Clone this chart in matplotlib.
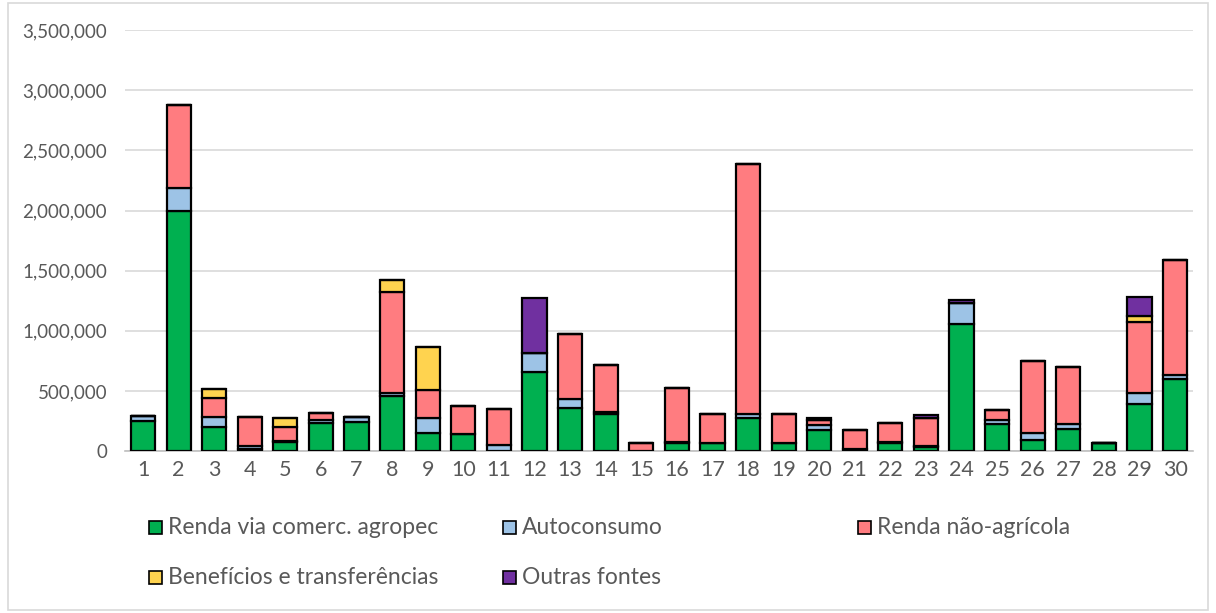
import numpy as np
import matplotlib.pyplot as plt
from matplotlib.patches import Rectangle

plt.rcParams['font.family'] = ['Lato', 'DejaVu Sans']

# propriedades 1..30
propriedades = list(range(1, 31))

series_names = ['Renda via comerc. agropec', 'Autoconsumo', 'Renda não-agrícola',
                'Benefícios e transferências', 'Outras fontes']

comerc = [250000, 2000000, 200000, 20000, 80000, 230000, 240000, 460000, 147000, 140000,
          5000, 655000, 355000, 310000, 2000, 65000, 65000, 272000, 65000, 175000,
          5000, 64000, 35000, 1060000, 225000, 90000, 183000, 70000, 395000, 596000]
autoconsumo = [40000, 190000, 85000, 25000, 5000, 25000, 45000, 25000, 130000, 0,
               50000, 160000, 77000, 15000, 0, 8000, 0, 40000, 0, 40000,
               15000, 15000, 10000, 175000, 30000, 65000, 40000, 0, 85000, 35000]
nao_agricola = [0, 690000, 155000, 240000, 120000, 60000, 0, 840000, 230000, 237000,
                295000, 0, 538000, 390000, 65000, 450000, 240000, 2075000, 248000, 42000,
                155000, 158000, 230000, 0, 85000, 595000, 480000, 0, 590000, 955000]
beneficios = [0, 0, 75000, 0, 72000, 0, 0, 95000, 360000, 0,
              0, 0, 0, 0, 0, 0, 0, 0, 0, 0,
              0, 0, 0, 0, 0, 0, 0, 0, 55000, 0]
outras = [0, 0, 0, 0, 0, 0, 0, 0, 0, 0,
          0, 455000, 0, 0, 0, 0, 0, 0, 0, 20000,
          0, 0, 25000, 25000, 0, 0, 0, 0, 160000, 0]

colors = ['#00B050', '#9DC3E6', '#FF7C80', '#FFD34F', '#7030A0']

fig = plt.figure(figsize=(12.16, 6.13), dpi=100)
ax = fig.add_axes([0.103, 0.264, 0.878, 0.687])

x = np.array(propriedades)
bottom = np.zeros(len(x))
for vals, col, name in zip([comerc, autoconsumo, nao_agricola, beneficios, outras],
                           colors, series_names):
    ax.bar(x, vals, bottom=bottom, width=0.68, color=col, edgecolor='black',
           linewidth=1.6, label=name, zorder=3)
    bottom += np.array(vals)

ax.set_xlim(0.5, 30.5)
ax.set_ylim(0, 3500000)
ax.set_yticks(np.arange(0, 3500001, 500000))
ax.set_yticklabels([f'{v:,}' for v in range(0, 3500001, 500000)])
ax.set_xticks(x)
ax.set_xticklabels([str(p) for p in propriedades])
ax.yaxis.grid(True, color='#D9D9D9', linewidth=1.2, zorder=0)
for s in ['top', 'right', 'left']:
    ax.spines[s].set_visible(False)
ax.spines['bottom'].set_color('#BFBFBF')
ax.spines['bottom'].set_linewidth(1.2)
ax.tick_params(axis='y', length=0, labelsize=13.5, labelcolor='#595959', pad=13)
ax.tick_params(axis='x', length=0, labelsize=15.5, labelcolor='#595959', pad=6)

# legenda manual (colunas irregulares como no original)
leg_pos = [(149, 527), (503, 527), (858, 527), (149, 577), (503, 577)]
W, H = 1216, 613
for (px, py), col, name in zip(leg_pos, colors, series_names):
    fig.patches.append(Rectangle((px / W, 1 - (py + 7) / H), 13 / W, 13 / H,
                                 facecolor=col, edgecolor='black', linewidth=1.2,
                                 transform=fig.transFigure, figure=fig))
    fig.text((px + 19) / W, 1 - py / H, name, fontsize=16.5, color='#595959',
             va='center', ha='left')

# moldura externa
fig.patches.append(Rectangle((8 / W, 3 / H), 1 - 16 / W, 1 - 6 / H, facecolor='none',
                             edgecolor='#D9D9D9', linewidth=1.2,
                             transform=fig.transFigure, figure=fig))

fig.savefig('out.png', dpi=100)
